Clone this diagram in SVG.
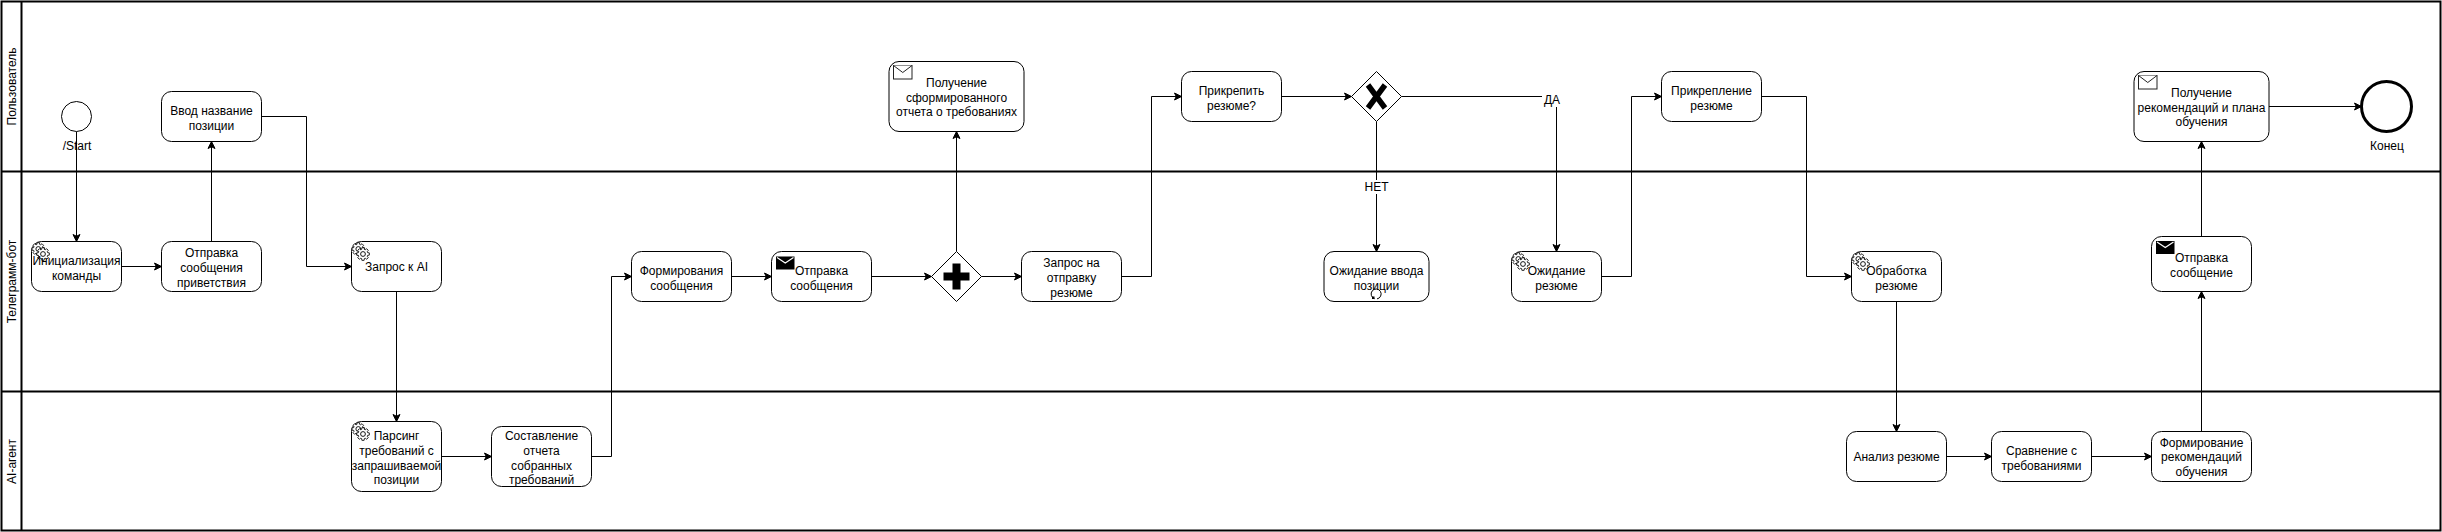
<svg xmlns="http://www.w3.org/2000/svg" xmlns:xlink="http://www.w3.org/1999/xlink" width="2442" height="532" viewBox="0 0 2442 532">
<style>
text{font-family:"Liberation Sans",Arial,sans-serif;font-size:12px;fill:#000;text-anchor:middle}
.lane{fill:none;stroke:#000;stroke-width:2}
.task{fill:#fff;stroke:#000;stroke-width:1}
.cn{fill:none;stroke:#000;stroke-width:1;marker-end:url(#arr)}
.gw{fill:#fff;stroke:#000;stroke-width:1}
.gear{fill:#fff;stroke:#000;stroke-width:.9}
.env{fill:#fff;stroke:#222;stroke-width:1}
.envb{fill:#000;stroke:#000;stroke-width:1}
.lab{fill:#fff;stroke:none}
</style>
<defs>
<marker id="arr" markerUnits="userSpaceOnUse" markerWidth="10" markerHeight="10" refX="8.5" refY="5" orient="auto">
<path d="M8.5,5 L1.5,1.5 L3.25,5 L1.5,8.5 Z" fill="#000" stroke="#000" stroke-width="1"/>
</marker>
<path id="gearp" d="M6.89,1.22L4.97,1.52L4.59,2.44L5.73,4.02L4.02,5.73L2.44,4.59L1.52,4.97L1.22,6.89L-1.22,6.89L-1.52,4.97L-2.44,4.59L-4.02,5.73L-5.73,4.02L-4.59,2.44L-4.97,1.52L-6.89,1.22L-6.89,-1.22L-4.97,-1.52L-4.59,-2.44L-5.73,-4.02L-4.02,-5.73L-2.44,-4.59L-1.52,-4.97L-1.22,-6.89L1.22,-6.89L1.52,-4.97L2.44,-4.59L4.02,-5.73L5.73,-4.02L4.59,-2.44L4.97,-1.52L6.89,-1.22Z"/>
<g id="gears">
<use xlink:href="#gearp" href="#gearp" class="gear" transform="translate(6.8,7.5) scale(.92)"/>
<circle class="gear" cx="6.8" cy="7.5" r="2.4"/>
<use xlink:href="#gearp" href="#gearp" class="gear" transform="translate(11.5,12.5) scale(.92)"/>
<circle class="gear" cx="11.5" cy="12.5" r="2.4"/>
</g>
<g id="envw">
<rect class="env" width="18.5" height="13.5"/>
<path d="M0,0L9.25,7L18.5,0" class="env" fill="none"/>
</g>
<g id="envk">
<rect class="envb" width="17.5" height="12"/>
<path d="M0.5,0.5L8.75,6L17,0.5" fill="none" stroke="#fff" stroke-width="1.2"/>
</g>
</defs>

<rect width="2442" height="532" fill="#fff"/>

<g id="lanes">
<rect class="lane" x="1.5" y="1.5" width="2439" height="529"/>
<path class="lane" d="M21.5,1.5V530.5M1.5,171.5H2440.5M1.5,391.5H2440.5"/>
<text transform="translate(16,86.5) rotate(-90)">Пользователь</text>
<text transform="translate(16,281.5) rotate(-90)">Телеграмм-бот</text>
<text transform="translate(16,461.5) rotate(-90)">AI-агент</text>
</g>

<g id="connectors">
<path class="cn" d="M76.5,131.5V241.5"/>
<path class="cn" d="M121.5,266.5H161.5"/>
<path class="cn" d="M211.5,241.5V141.5"/>
<path class="cn" d="M261.5,116.5H306.5V266.5H351.5"/>
<path class="cn" d="M396.5,291.5V421.5"/>
<path class="cn" d="M441.5,456.5H491.5"/>
<path class="cn" d="M591.5,456.5H611.5V276.5H631.5"/>
<path class="cn" d="M731.5,276.5H771.5"/>
<path class="cn" d="M871.5,276.5H931.5"/>
<path class="cn" d="M981.5,276.5H1021.5"/>
<path class="cn" d="M956.5,251.5V131.5"/>
<path class="cn" d="M1121.5,276.5H1151.5V96.5H1181.5"/>
<path class="cn" d="M1281.5,96.5H1351.5"/>
<path class="cn" d="M1376.5,121.5V251.5"/>
<path class="cn" d="M1401.5,96.5H1556.5V251.5"/>
<path class="cn" d="M1601.5,276.5H1631.5V96.5H1661.5"/>
<path class="cn" d="M1761.5,96.5H1806.5V276.5H1851.5"/>
<path class="cn" d="M1896.5,301.5V431.5"/>
<path class="cn" d="M1946.5,456.5H1991.5"/>
<path class="cn" d="M2091.5,456.5H2151.5"/>
<path class="cn" d="M2201.5,431.5V291.5"/>
<path class="cn" d="M2201.5,236.5V141.5"/>
<path class="cn" d="M2269,106.5H2361.5"/>
<rect class="lab" x="1542" y="92" width="20" height="15"/>
<text x="1552" y="103.500">ДА</text>
<rect class="lab" x="1365" y="180" width="23" height="14"/>
<text x="1376.500" y="191">НЕТ</text>
</g>

<g id="start"><circle cx="76.500" cy="116.500" r="15" fill="#fff" stroke="#000"/><text x="77" y="150">/Start</text></g>
<g id="end"><circle cx="2386.500" cy="106.500" r="25" fill="#fff" stroke="#000" stroke-width="3"/><text x="2387" y="150">Конец</text></g>

<g id="init"><rect class="task" x="31.500" y="241.500" width="90" height="50" rx="10"/><use xlink:href="#gears" href="#gears" x="31.500" y="241.500"/><text x="76.500" y="264.500">Инициализация</text><text x="76.500" y="279.500">команды</text></g>
<g id="greet"><rect class="task" x="161.500" y="241.500" width="100" height="50" rx="10"/><text x="211.500" y="257">Отправка</text><text x="211.500" y="271.500">сообщения</text><text x="211.500" y="286.500">приветствия</text></g>
<g id="input"><rect class="task" x="161.500" y="91.500" width="100" height="50" rx="10"/><text x="211.500" y="114.500">Ввод название</text><text x="211.500" y="129.500">позиции</text></g>
<g id="askai"><rect class="task" x="351.500" y="241.500" width="90" height="50" rx="10"/><use xlink:href="#gears" href="#gears" x="351.500" y="241.500"/><text x="396.500" y="271">Запрос к AI</text></g>
<g id="parse"><rect class="task" x="351.500" y="421.500" width="90" height="70" rx="10"/><use xlink:href="#gears" href="#gears" x="351.500" y="421.500"/><text x="396.500" y="440">Парсинг</text><text x="396.500" y="455">требований с</text><text x="396.500" y="469.500">запрашиваемой</text><text x="396.500" y="484">позиции</text></g>
<g id="report"><rect class="task" x="491.500" y="426.500" width="100" height="60" rx="10"/><text x="541.500" y="440">Составление</text><text x="541.500" y="455">отчета</text><text x="541.500" y="469.500">собранных</text><text x="541.500" y="484">требований</text></g>
<g id="form"><rect class="task" x="631.500" y="251.500" width="100" height="50" rx="10"/><text x="681.500" y="274.500">Формирования</text><text x="681.500" y="289.500">сообщения</text></g>
<g id="send1"><rect class="task" x="771.500" y="251.500" width="100" height="50" rx="10"/><use xlink:href="#envk" href="#envk" x="776.500" y="257"/><text x="821.500" y="274.500">Отправка</text><text x="821.500" y="289.500">сообщения</text></g>
<g id="gwplus"><path class="gw" d="M956.500,251.500L981.500,276.500L956.500,301.500L931.500,276.500Z"/><path d="M952.500,263.500h8v9h9v8h-9v9h-8v-9h-9v-8h9Z" fill="#000"/></g>
<g id="recv1"><rect class="task" x="889" y="61.500" width="135" height="70" rx="10"/><use xlink:href="#envw" href="#envw" x="893.500" y="65.500"/><text x="956.500" y="87">Получение</text><text x="956.500" y="101.500">сформированного</text><text x="956.500" y="116">отчета о требованиях</text></g>
<g id="askcv"><rect class="task" x="1021.500" y="251.500" width="100" height="50" rx="10"/><text x="1071.500" y="267">Запрос на</text><text x="1071.500" y="281.500">отправку</text><text x="1071.500" y="296.500">резюме</text></g>
<g id="attachq"><rect class="task" x="1181.500" y="71.500" width="100" height="50" rx="10"/><text x="1231.500" y="94.500">Прикрепить</text><text x="1231.500" y="109.500">резюме?</text></g>
<g id="gwx"><path class="gw" d="M1376.500,71.500L1401.500,96.500L1376.500,121.500L1351.500,96.500Z"/><path d="M1368,85L1385,108M1385,85L1368,108" stroke="#000" stroke-width="5.500" fill="none"/></g>
<g id="waitpos"><rect class="task" x="1324" y="251.500" width="105" height="50" rx="10"/><text x="1376.500" y="274.500">Ожидание ввода</text><text x="1376.500" y="289.500">позиции</text><path d="M1374.500,298.700A5,5 0 1 1 1377,298.900" fill="none" stroke="#000"/><rect x="1372" y="296.500" width="2.500" height="2.500" fill="#000"/></g>
<g id="waitcv"><rect class="task" x="1511.500" y="251.500" width="90" height="50" rx="10"/><use xlink:href="#gears" href="#gears" x="1511.500" y="251.500"/><text x="1556.500" y="274.500">Ожидание</text><text x="1556.500" y="289.500">резюме</text></g>
<g id="attach"><rect class="task" x="1661.500" y="71.500" width="100" height="50" rx="10"/><text x="1711.500" y="94.500">Прикрепление</text><text x="1711.500" y="109.500">резюме</text></g>
<g id="proc"><rect class="task" x="1851.500" y="251.500" width="90" height="50" rx="10"/><use xlink:href="#gears" href="#gears" x="1851.500" y="251.500"/><text x="1896.500" y="274.500">Обработка</text><text x="1896.500" y="289.500">резюме</text></g>
<g id="analyze"><rect class="task" x="1846.500" y="431.500" width="100" height="50" rx="10"/><text x="1896.500" y="461">Анализ резюме</text></g>
<g id="compare"><rect class="task" x="1991.500" y="431.500" width="100" height="50" rx="10"/><text x="2041.500" y="454.500">Сравнение с</text><text x="2041.500" y="469.500">требованиями</text></g>
<g id="recs"><rect class="task" x="2151.500" y="431.500" width="100" height="50" rx="10"/><text x="2201.500" y="447">Формирование</text><text x="2201.500" y="461">рекомендаций</text><text x="2201.500" y="476">обучения</text></g>
<g id="send2"><rect class="task" x="2151.500" y="236.500" width="100" height="55" rx="10"/><use xlink:href="#envk" href="#envk" x="2156.500" y="241.500"/><text x="2201.500" y="262">Отправка</text><text x="2201.500" y="277">сообщение</text></g>
<g id="recv2"><rect class="task" x="2134" y="71.500" width="135" height="70" rx="10"/><use xlink:href="#envw" href="#envw" x="2138.500" y="75.500"/><text x="2201.500" y="97">Получение</text><text x="2201.500" y="111.500">рекомендаций и плана</text><text x="2201.500" y="126">обучения</text></g>
</svg>
